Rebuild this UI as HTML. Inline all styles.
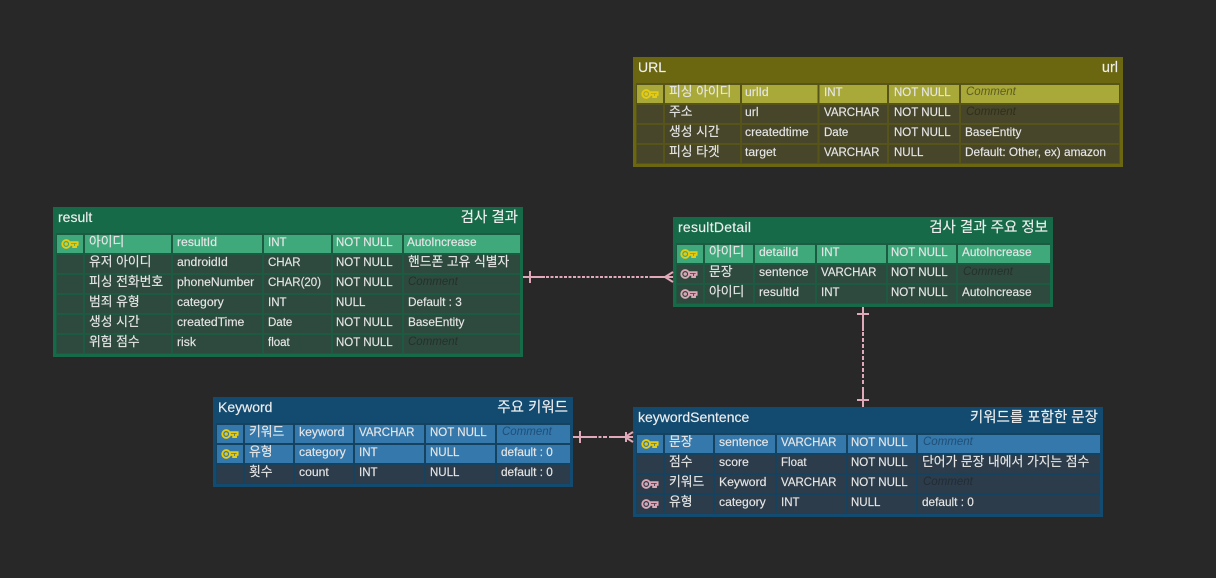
<!DOCTYPE html>
<html><head><meta charset="utf-8"><style>
html,body{margin:0;padding:0;background:#282828;width:1216px;height:578px;overflow:hidden}
svg{display:block}
text{font-family:"Liberation Sans","Noto Sans CJK KR",sans-serif;font-size:11.5px;fill:#e6e6e6;stroke:#e6e6e6;stroke-width:.15px}
.h{font-size:14px;fill:#eeeeee;stroke:#eeeeee}
.hk{font-size:14.5px;fill:#eeeeee;stroke:#eeeeee;text-anchor:end}
.n{font-size:12.8px}
.f{font-size:12.2px}
.d{font-size:11.8px}
.c{font-style:italic;fill:#25312b;stroke:none;font-size:11.5px}
.cb{font-style:italic;fill:#222c35;stroke:none;font-size:11.5px}
.cy{font-style:italic;fill:#2f2f1c;stroke:none;font-size:11.5px}
.cyh{font-style:italic;fill:#5c5c22;stroke:none;font-size:11.5px}
.cu{font-style:italic;fill:#1f4f78;stroke:none;font-size:11.5px}
.e{text-anchor:end}
.ky{fill:none;stroke:#e6cc10;stroke-width:1.9}
.kp{fill:none;stroke:#dba6b6;stroke-width:1.9}
.cn{fill:none;stroke:#dfa9b9;stroke-width:2}
</style></head><body>
<svg width="1216" height="578" viewBox="0 0 1216 578" xmlns="http://www.w3.org/2000/svg">
<defs>
<symbol id="k" viewBox="0 0 16 10" overflow="visible"><circle cx="4.2" cy="5" r="3.9"/><circle cx="4.2" cy="5" r=".8"/><path d="M8.100 3.200H15.600V5.800H14V8H11.200V5.800H8.100"/></symbol>
</defs>
<rect width="1216" height="578" fill="#282828"/>

<!-- URL -->
<rect x="633" y="57" width="490" height="110" fill="#6b6610"/>
<rect x="636" y="83" width="484" height="81" fill="#57541a"/>
<rect x="637" y="85" width="482" height="18" fill="#a9a93a"/>
<rect x="637" y="105" width="482" height="18" fill="#47462b"/>
<rect x="637" y="125" width="482" height="18" fill="#47462b"/>
<rect x="637" y="145" width="482" height="18" fill="#47462b"/>
<path d="M664 85V163M741 85V163M818.500 85V163M888 85V163M960 85V163" stroke="#57541a" stroke-width="2"/>
<text class="h" x="638" y="72">URL</text><text class="hk" x="1118" y="72">url</text>
<use href="#k" x="642" y="89" width="16" height="10" class="ky"/>
<text class="n" x="669" y="96">피싱 아이디</text><text class="f" x="745" y="96">urlId</text><text x="824" y="96">INT</text><text x="894" y="96">NOT NULL</text><text class="cyh" x="966" y="95">Comment</text>
<text class="n" x="669" y="116">주소</text><text class="f" x="745" y="116">url</text><text x="824" y="116">VARCHAR</text><text x="894" y="116">NOT NULL</text><text class="cy" x="966" y="115">Comment</text>
<text class="n" x="669" y="136">생성 시간</text><text class="f" x="745" y="136">createdtime</text><text x="824" y="136">Date</text><text x="894" y="136">NOT NULL</text><text class="d" x="965" y="136">BaseEntity</text>
<text class="n" x="669" y="156">피싱 타겟</text><text class="f" x="745" y="156">target</text><text x="824" y="156">VARCHAR</text><text x="894" y="156">NULL</text><text class="d" x="965" y="156">Default: Other, ex) amazon</text>

<!-- result -->
<rect x="53" y="207" width="470" height="150" fill="#166a48"/>
<rect x="56" y="233" width="464" height="121" fill="#1c5a42"/>
<rect x="57" y="235" width="463" height="18" fill="#3fa97c"/>
<rect x="57" y="255" width="463" height="18" fill="#2e4a3e"/>
<rect x="57" y="275" width="463" height="18" fill="#2e4a3e"/>
<rect x="57" y="295" width="463" height="18" fill="#2e4a3e"/>
<rect x="57" y="315" width="463" height="18" fill="#2e4a3e"/>
<rect x="57" y="335" width="463" height="18" fill="#2e4a3e"/>
<path d="M84 235V353M172 235V353M263 235V353M332 235V353M403 235V353" stroke="#1c5a42" stroke-width="2"/>
<text class="h" x="58" y="222">result</text><text class="hk" x="518" y="222">검사 결과</text>
<use href="#k" x="62" y="239" width="16" height="10" class="ky"/>
<text class="n" x="89" y="246">아이디</text><text class="f" x="177" y="246">resultId</text><text x="268" y="246">INT</text><text x="336" y="246">NOT NULL</text><text class="d" x="407" y="246">AutoIncrease</text>
<text class="n" x="89" y="266">유저 아이디</text><text class="f" x="177" y="266">androidId</text><text x="268" y="266">CHAR</text><text x="336" y="266">NOT NULL</text><text class="n" x="408" y="266">핸드폰 고유 식별자</text>
<text class="n" x="89" y="286">피싱 전화번호</text><text class="f" x="177" y="286">phoneNumber</text><text x="268" y="286">CHAR(20)</text><text x="336" y="286">NOT NULL</text><text class="c" x="408" y="285">Comment</text>
<text class="n" x="89" y="306">범죄 유형</text><text class="f" x="177" y="306">category</text><text x="268" y="306">INT</text><text x="336" y="306">NULL</text><text class="d" x="408" y="306">Default : 3</text>
<text class="n" x="89" y="326">생성 시간</text><text class="f" x="177" y="326">createdTime</text><text x="268" y="326">Date</text><text x="336" y="326">NOT NULL</text><text class="d" x="408" y="326">BaseEntity</text>
<text class="n" x="89" y="346">위험 점수</text><text class="f" x="177" y="346">risk</text><text x="268" y="346">float</text><text x="336" y="346">NOT NULL</text><text class="c" x="408" y="345">Comment</text>

<!-- resultDetail -->
<rect x="673" y="217" width="380" height="90" fill="#166a48"/>
<rect x="676" y="243" width="374" height="61" fill="#1c5a42"/>
<rect x="677" y="245" width="373" height="18" fill="#3fa97c"/>
<rect x="677" y="265" width="373" height="18" fill="#2e4a3e"/>
<rect x="677" y="285" width="373" height="18" fill="#2e4a3e"/>
<path d="M704 245V303M754 245V303M816 245V303M887 245V303M957 245V303" stroke="#1c5a42" stroke-width="2"/>
<text class="h" x="678" y="232" textLength="73">resultDetail</text><text class="hk" x="1048" y="232">검사 결과 주요 정보</text>
<use href="#k" x="681" y="249" width="16" height="10" class="ky"/>
<use href="#k" x="681" y="269" width="16" height="10" class="kp"/>
<use href="#k" x="681" y="289" width="16" height="10" class="kp"/>
<text class="n" x="709" y="256">아이디</text><text class="f" x="759" y="256">detailId</text><text x="821" y="256">INT</text><text x="891" y="256">NOT NULL</text><text class="d" x="962" y="256">AutoIncrease</text>
<text class="n" x="709" y="276">문장</text><text class="f" x="759" y="276">sentence</text><text x="821" y="276">VARCHAR</text><text x="891" y="276">NOT NULL</text><text class="c" x="963" y="275">Comment</text>
<text class="n" x="709" y="296">아이디</text><text class="f" x="759" y="296">resultId</text><text x="821" y="296">INT</text><text x="891" y="296">NOT NULL</text><text class="d" x="962" y="296">AutoIncrease</text>

<!-- Keyword -->
<rect x="213" y="397" width="360" height="90" fill="#124a70"/>
<rect x="216" y="423" width="354" height="61" fill="#15425f"/>
<rect x="217" y="425" width="353" height="18" fill="#3578ab"/>
<rect x="217" y="445" width="353" height="18" fill="#3578ab"/>
<rect x="217" y="465" width="353" height="18" fill="#2c3c4a"/>
<path d="M244 425V483M294 425V483M354 425V483M425 425V483M496 425V483" stroke="#15425f" stroke-width="2"/>
<text class="h" x="218" y="412">Keyword</text><text class="hk" x="568" y="412">주요 키워드</text>
<use href="#k" x="222" y="429" width="16" height="10" class="ky"/>
<use href="#k" x="222" y="449" width="16" height="10" class="ky"/>
<text class="n" x="249" y="436">키워드</text><text class="f" x="299" y="436">keyword</text><text x="359" y="436">VARCHAR</text><text x="430" y="436">NOT NULL</text><text class="cu" x="502" y="435">Comment</text>
<text class="n" x="249" y="456">유형</text><text class="f" x="299" y="456">category</text><text x="359" y="456">INT</text><text x="430" y="456">NULL</text><text class="d" x="501" y="456">default : 0</text>
<text class="n" x="249" y="476">횟수</text><text class="f" x="299" y="476">count</text><text x="359" y="476">INT</text><text x="430" y="476">NULL</text><text class="d" x="501" y="476">default : 0</text>

<!-- keywordSentence -->
<rect x="633" y="407" width="470" height="110" fill="#124a70"/>
<rect x="636" y="433" width="464" height="81" fill="#15425f"/>
<rect x="637" y="435" width="463" height="18" fill="#3578ab"/>
<rect x="637" y="455" width="463" height="18" fill="#2c3c4a"/>
<rect x="637" y="475" width="463" height="18" fill="#2c3c4a"/>
<rect x="637" y="495" width="463" height="18" fill="#2c3c4a"/>
<path d="M664 435V513M714 435V513M776 435V513M847 435V513M917 435V513" stroke="#15425f" stroke-width="2"/>
<text class="h" x="638" y="422">keywordSentence</text><text class="hk" x="1098" y="422">키워드를 포함한 문장</text>
<use href="#k" x="642" y="439" width="16" height="10" class="ky"/>
<use href="#k" x="642" y="479" width="16" height="10" class="kp"/>
<use href="#k" x="642" y="499" width="16" height="10" class="kp"/>
<text class="n" x="669" y="446">문장</text><text class="f" x="719" y="446">sentence</text><text x="781" y="446">VARCHAR</text><text x="851" y="446">NOT NULL</text><text class="cu" x="923" y="445">Comment</text>
<text class="n" x="669" y="466">점수</text><text class="f" x="719" y="466">score</text><text x="781" y="466">Float</text><text x="851" y="466">NOT NULL</text><text class="n" x="922" y="466">단어가 문장 내에서 가지는 점수</text>
<text class="n" x="669" y="486">키워드</text><text class="f" x="719" y="486">Keyword</text><text x="781" y="486">VARCHAR</text><text x="851" y="486">NOT NULL</text><text class="cb" x="923" y="485">Comment</text>
<text class="n" x="669" y="506">유형</text><text class="f" x="719" y="506">category</text><text x="781" y="506">INT</text><text x="851" y="506">NULL</text><text class="d" x="922" y="506">default : 0</text>

<!-- connectors -->
<path class="cn" d="M523 277H545"/><path class="cn" d="M530 271V283"/>
<path class="cn" d="M546 277H650" stroke-dasharray="3 1.500"/>
<path class="cn" d="M650 277H673M665 277L673 272M665 277L673 282"/>
<path class="cn" d="M863 307V331"/><path class="cn" d="M857 314H869"/>
<path class="cn" d="M863 332V385" stroke-dasharray="4 2"/>
<path class="cn" d="M863 387V407"/><path class="cn" d="M857 400H869"/>
<path class="cn" d="M573 437H597M598.500 437H601.500M603 437H607M609 437H633M625 437L633 432M625 437L633 442M626 432V442"/><path class="cn" d="M580 431V443"/>
</svg>
</body></html>
